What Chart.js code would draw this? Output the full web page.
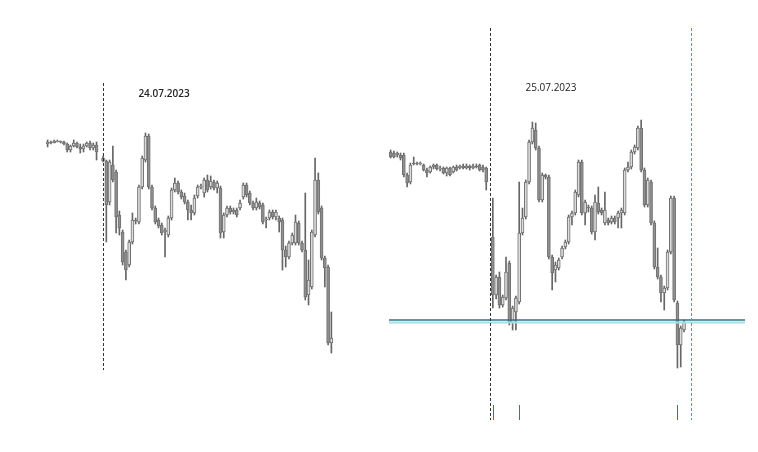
<!DOCTYPE html>
<html>
<head>
<meta charset="utf-8">
<script src="https://cdn.jsdelivr.net/npm/chart.js@4.4.0/dist/chart.umd.min.js"></script>
<style>
  html, body { margin: 0; padding: 0; background: #fff; }
  body { width: 758px; height: 452px; position: relative; overflow: hidden; }
  canvas { position: absolute; top: 0; }
  #left { left: 46px; }
  #right { left: 389px; }
</style>
</head>
<body>
<canvas id="left" width="287" height="452"></canvas>
<canvas id="right" width="356" height="452"></canvas>
<script>
// 24.07.2023 : pre-session, one empty slot, then the session
const leftOpen = [256,258,257,259,259,258,256,250,254,257,253,251,254,257,252,255, null,
  242,239,198,235,228,185,168,148,135,158,180,178,213,240,264,213,192,180,175,168,165,182,210,217,208,
  204,198,190,187,204,213,207,220,213,218,212,212,168,185,192,188,190,192,203,215,207,197,192,197,195,
  180,182,188,183,182,180,150,143,157,157,177,157,150,105,113,165,220,192,142,133,57];
const leftClose = [258,257,259,259,258,256,250,254,257,253,251,254,257,252,255,248, null,
  239,195,238,220,183,172,138,130,158,180,179,213,242,264,213,192,178,174,167,170,182,210,217,208,203,
  198,190,187,202,213,214,220,210,219,212,217,167,185,192,188,190,185,197,215,205,197,192,198,193,178,
  181,188,183,188,178,150,143,157,165,178,157,150,103,120,168,220,188,142,132,57,62];
const leftHigh = [260,259,260,260,259,259,257,255,260,258,256,256,258,259,257,258, null,
  244,240,240,254,230,189,170,150,160,187,182,215,244,267,266,215,194,182,177,172,184,212,222,219,210,
  207,200,195,205,215,216,222,225,224,220,219,214,187,194,194,192,192,200,217,217,209,199,202,199,197,
  183,190,190,190,184,182,154,159,167,185,179,159,207,140,170,242,227,194,144,135,88];
const leftLow = [253,256,257,258,257,255,248,248,253,252,247,248,253,250,250,240, null,
  238,158,195,218,167,165,135,120,133,156,176,176,211,238,211,190,176,172,165,143,163,180,208,206,201,
  196,180,180,185,202,211,203,208,211,210,207,162,162,183,186,186,183,190,201,203,195,190,190,191,176,
  172,180,181,180,168,130,133,141,155,155,155,148,100,95,111,163,186,140,113,55,47];

// 25.07.2023
const rightOpen = [248,247,245,245,245,225,218,237,237,236,235,230,228,233,235,231,232,227,232,228,
  233,232,234,232,234,232,234,235,233,232, null,
  163,105,123,95,102,137,77,88,98,167,183,218,258,270,252,200,225,223,143,130,132,143,153,158,183,
  187,205,238,187,193,192,168,197,190,177,180,178,182,182,187,187,230,233,248,252,272,230,195,218,177,
  133,123,107,112,148,202,97,55,70];
const rightClose = [243,243,247,242,225,217,235,236,236,237,230,227,233,235,231,232,227,232,225,233,
  230,234,232,234,232,234,233,230,230,218, null,
  105,123,95,103,128,77,92,102,167,182,218,258,272,252,200,225,223,143,127,135,140,152,158,183,187,
  208,238,187,198,192,168,198,188,187,190,177,182,178,187,190,230,233,248,253,272,230,195,220,177,133,
  123,107,112,148,202,100,55,72,78];
const rightHigh = [250,249,248,247,247,227,237,243,238,238,236,232,234,236,236,234,233,233,233,234,
  235,235,236,236,235,236,236,236,235,233, null,
  202,125,128,105,143,139,94,104,218,192,220,260,278,277,254,227,226,225,145,138,142,154,160,185,189,
  210,240,240,200,195,194,205,213,192,208,182,184,184,189,192,232,238,250,255,274,280,232,222,220,179,
  152,125,114,150,204,204,99,74,80];
const rightLow = [242,242,243,240,223,213,216,235,235,235,229,223,227,231,230,229,226,224,224,227,
  229,231,231,231,230,231,232,229,228,210, null,
  92,101,92,93,100,75,70,70,96,165,181,216,256,250,198,198,221,141,110,118,130,141,151,156,175,
  185,203,185,175,188,166,160,186,185,175,175,176,176,172,172,185,228,231,246,250,228,193,193,175,131,
  121,98,90,110,146,98,32,33,68];

const leftSlots = 88;
const rightSlots = 108;
const leftSessionStart = 17;
const rightSessionStart = 31;
const rightSessionEnd = 91;
const levelLines = [80, 77.5];
const volumeMarks = [31, 39, 87];

function slotLabels(n) {
  const out = [];
  for (let i = 0; i < n; i++) out.push(String(i));
  return out;
}

function candleDatasets(open, close, high, low) {
  const bodies = open.map((o, i) => (o === null ? null : [o, close[i]]));
  const wicks = open.map((o, i) => (o === null ? null : [low[i], high[i]]));
  const fills = open.map((o, i) => (o !== null && close[i] >= o ? '#dcdcdc' : '#8f8f8f'));
  return [
    {
      data: bodies,
      backgroundColor: fills,
      borderColor: '#707070',
      borderWidth: 1,
      borderSkipped: false,
      barThickness: 3,
      minBarLength: 1,
      order: 0,
    },
    {
      data: wicks,
      backgroundColor: '#666',
      borderWidth: 0,
      barThickness: 1,
      order: 1,
    },
  ];
}

function vline(ctx, x, y1, y2, color, dash) {
  ctx.save();
  ctx.strokeStyle = color;
  ctx.lineWidth = 1;
  ctx.setLineDash(dash);
  ctx.beginPath();
  ctx.moveTo(Math.round(x) + 0.5, y1);
  ctx.lineTo(Math.round(x) + 0.5, y2);
  ctx.stroke();
  ctx.restore();
}

function baseOptions() {
  return {
    responsive: false,
    animation: false,
    layout: { padding: 0 },
    plugins: { legend: { display: false }, tooltip: { enabled: false } },
    scales: {
      x: { display: false, stacked: false, grid: { display: false } },
      y: { display: false, min: -52, max: 400 },
    },
    datasets: { bar: { grouped: false } },
  };
}

new Chart(document.getElementById('left'), {
  type: 'bar',
  data: {
    labels: slotLabels(leftSlots),
    datasets: candleDatasets(leftOpen, leftClose, leftHigh, leftLow),
  },
  options: baseOptions(),
  plugins: [{
    id: 'leftMarks',
    afterDatasetsDraw(chart) {
      const { ctx, scales } = chart;
      const x = scales.x.getPixelForValue(leftSessionStart) - 0.5;
      vline(ctx, x, 83, 370, '#333', [3, 2]);
      ctx.save();
      ctx.fillStyle = '#222';
      ctx.font = '600 10px "Open Sans"';
      ctx.textAlign = 'center';
      ctx.textBaseline = 'middle';
      ctx.fillText('24.07.2023', 118, 94);
      ctx.restore();
    },
  }],
});

new Chart(document.getElementById('right'), {
  type: 'bar',
  data: {
    labels: slotLabels(rightSlots),
    datasets: candleDatasets(rightOpen, rightClose, rightHigh, rightLow),
  },
  options: baseOptions(),
  plugins: [{
    id: 'rightMarks',
    afterDatasetsDraw(chart) {
      const { ctx, scales, chartArea } = chart;
      // price levels
      const colors = ['#2f7383', '#a6dcee'];
      levelLines.forEach((v, i) => {
        const y = scales.y.getPixelForValue(v);
        ctx.save();
        ctx.strokeStyle = colors[i];
        ctx.lineWidth = i === 0 ? 1.5 : 2;
        ctx.beginPath();
        ctx.moveTo(chartArea.left, y);
        ctx.lineTo(chartArea.right, y);
        ctx.stroke();
        ctx.restore();
      });
      const xs = scales.x.getPixelForValue(rightSessionStart - 1);
      vline(ctx, xs, 28, 420, '#333', [3, 2]);
      const xe = scales.x.getPixelForValue(rightSessionEnd);
      vline(ctx, xe, 28, 420, '#3a9fd4', [3, 2]);
      volumeMarks.forEach(i => {
        vline(ctx, scales.x.getPixelForValue(i), 405, 420, '#2e8a36', []);
      });
      ctx.save();
      ctx.fillStyle = '#222';
      ctx.font = '500 10px "Open Sans"';
      ctx.textAlign = 'center';
      ctx.textBaseline = 'middle';
      ctx.fillText('25.07.2023', 162, 88);
      ctx.restore();
    },
  }],
});
</script>
</body>
</html>
